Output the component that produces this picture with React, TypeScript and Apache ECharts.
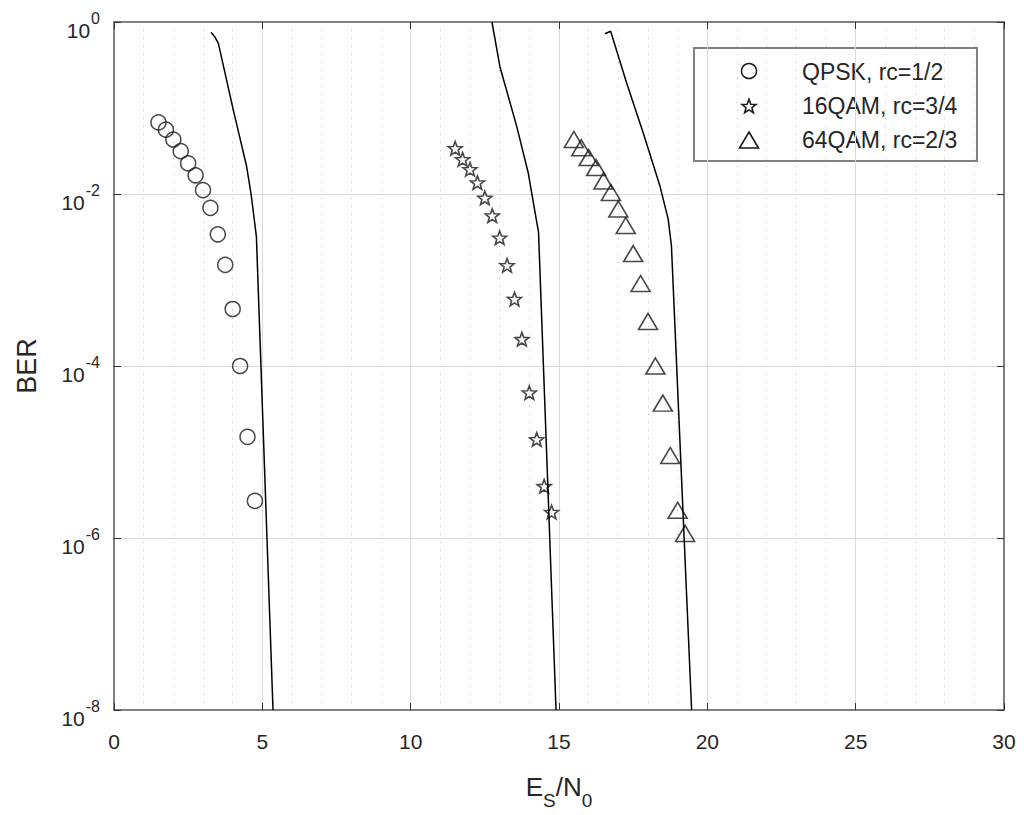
import React, { useEffect, useRef } from 'react';
import * as echarts from 'echarts';

// ---------- data ----------
const xMin = 0;
const xMax = 30;
const xStep = 5;
const yMinExp = -8;
const yMaxExp = 0;
const yStepExp = 2;

const qpskEs = [1.5, 1.75, 2.0, 2.25, 2.5, 2.75, 3.0, 3.25, 3.5, 3.75, 4.0, 4.25, 4.5, 4.75];
const qpskBer = [0.068, 0.056, 0.043, 0.0315, 0.0227, 0.0165, 0.0111, 0.0069, 0.0034, 0.0015, 4.6e-4, 1.0e-4, 1.5e-5, 2.7e-6];

const qam16Es = [11.5, 11.75, 12.0, 12.25, 12.5, 12.75, 13.0, 13.25, 13.5, 13.75, 14.0, 14.25, 14.5, 14.75];
const qam16Ber = [0.034, 0.0253, 0.0194, 0.0136, 0.009, 0.0056, 0.0031, 0.00148, 6.0e-4, 2.05e-4, 4.9e-5, 1.4e-5, 4.0e-6, 2.0e-6];

const qam64Es = [15.5, 15.75, 16.0, 16.25, 16.5, 16.75, 17.0, 17.25, 17.5, 17.75, 18.0, 18.25, 18.5, 18.75, 19.0, 19.25];
const qam64Ber = [0.043, 0.0345, 0.0265, 0.0203, 0.0142, 0.0104, 0.0067, 0.0043, 0.00203, 9.1e-4, 3.3e-4, 1.0e-4, 3.7e-5, 9.1e-6, 2.1e-6, 1.13e-6];

const qpskTheoryEs = [3.27, 3.4, 3.52, 4.02, 4.47, 4.62, 4.73, 4.8, 5.36];
const qpskTheoryBer = [0.76, 0.67, 0.56, 0.095, 0.021, 0.01, 0.005, 0.0032, 1e-8];

const qam16TheoryEs = [12.74, 13.01, 13.57, 13.96, 14.19, 14.31, 14.9];
const qam16TheoryBer = [1.0, 0.30, 0.062, 0.0178, 0.0062, 0.0036, 1e-8];

const qam64TheoryEs = [16.55, 16.74, 17.28, 17.84, 18.4, 18.68, 18.79, 19.47];
const qam64TheoryBer = [0.73, 0.78, 0.195, 0.0513, 0.0125, 0.0051, 0.0025, 1e-8];

const legendLabels = ['QPSK, rc=1/2', '16QAM, rc=3/4', '64QAM, rc=2/3'];
const xAxisTitle = ['E', 'S', '/N', '0'];
const yAxisTitle = 'BER';

// ---------- styling helpers ----------
const FONT = '"Liberation Sans", Arial, Helvetica, sans-serif';
const TEXT = '#262626';
const FRAME = '#808080';
const MARK = '#1a1a1a';

function starPoints(): number[][] {
  const pts: number[][] = [];
  for (let i = 0; i < 10; i++) {
    const a = -Math.PI / 2 + (i * Math.PI) / 5;
    const r = i % 2 === 0 ? 1 : 0.42;
    pts.push([r * Math.cos(a), r * Math.sin(a)]);
  }
  return pts;
}
const STAR = starPoints();
const starSymbol =
  'path://M' + STAR.map((p) => p[0].toFixed(4) + ' ' + p[1].toFixed(4)).join(' L') + ' Z';

function starPolygon(cx: number, cy: number, w: number, h: number): number[][] {
  const sx = w / 2 / 0.951;
  const sy = h / 1.809;
  const yc = (-1 + 0.809) / 2;
  return STAR.map((p) => [cx + p[0] * sx, cy + (p[1] - yc) * sy]);
}

const zip = (xs: number[], ys: number[]) => xs.map((x, i) => [x, ys[i]]);

export default function App() {
  const ref = useRef<HTMLDivElement>(null);

  useEffect(() => {
    const chart = echarts.init(ref.current!, null, { renderer: 'svg' });

    const gridLeft = 114;
    const gridTop = 22;
    const gridRight = 20;
    const gridBottom = 101;

    const commonX = {
      type: 'value',
      min: xMin,
      max: xMax,
      interval: xStep,
    };
    const commonY = {
      type: 'log',
      logBase: 10,
      min: Math.pow(10, yMinExp),
      max: Math.pow(10, yMaxExp),
      interval: yStepExp,
    };

    const legendX = 694;
    const legendY = 48;
    const legendW = 283;
    const legendH = 113;
    const symX = 749;
    const textX = 802;
    const rowY = [72, 106, 140];

    const option: any = {
      animation: false,
      backgroundColor: '#ffffff',
      textStyle: { fontFamily: FONT },
      grid: { left: gridLeft, right: gridRight, top: gridTop, bottom: gridBottom, containLabel: false },
      xAxis: [
        {
          ...commonX,
          position: 'bottom',
          name: `{m|${xAxisTitle[0]}}{s|${xAxisTitle[1]}}{m|${xAxisTitle[2]}}{s|${xAxisTitle[3]}}`,
          nameLocation: 'middle',
          nameGap: 64,
          nameTextStyle: {
            fontSize: 26,
            fontFamily: FONT,
            color: TEXT,
            rich: {
              m: { fontSize: 26, fontFamily: FONT, color: TEXT, lineHeight: 20, verticalAlign: 'top' },
              s: { fontSize: 19, fontFamily: FONT, color: TEXT, lineHeight: 53 },
            },
          },
          axisLine: { show: true, onZero: false, lineStyle: { color: FRAME, width: 2 } },
          axisTick: { show: true, inside: true, length: 7, lineStyle: { color: '#333', width: 1 } },
          axisLabel: { fontSize: 21, fontFamily: FONT, color: TEXT, margin: 21, lineHeight: 21 },
          splitLine: { show: true, lineStyle: { color: '#dadada', width: 1 } },
          minorTick: { show: false, splitNumber: 5 },
          minorSplitLine: { show: true, lineStyle: { color: '#b8b8b8', width: 1, type: [1, 7] } },
        },
        {
          ...commonX,
          position: 'top',
          axisLine: { show: true, onZero: false, lineStyle: { color: FRAME, width: 2 } },
          axisTick: { show: true, inside: true, length: 7, lineStyle: { color: '#333', width: 1 } },
          axisLabel: { show: false },
          splitLine: { show: false },
        },
      ],
      yAxis: [
        {
          ...commonY,
          position: 'left',
          name: yAxisTitle,
          nameLocation: 'middle',
          nameGap: 74,
          nameTextStyle: { fontSize: 27, fontFamily: FONT, color: TEXT, lineHeight: 27 },
          axisLine: { show: true, onZero: false, lineStyle: { color: FRAME, width: 2 } },
          axisTick: { show: true, inside: true, length: 7, lineStyle: { color: '#333', width: 1 } },
          axisLabel: {
            margin: 14,
            fontSize: 21,
            fontFamily: FONT,
            color: TEXT,
            formatter: (v: number) => {
              const e = Math.round(Math.log10(v));
              return `{base|10}{sup|${e}}`;
            },
            rich: {
              base: { fontSize: 21, fontFamily: FONT, color: TEXT, padding: [16, 0, 0, 0] },
              sup: { fontSize: 16, fontFamily: FONT, color: TEXT, verticalAlign: 'top', padding: [7, 0, 0, 1] },
            },
          },
          splitLine: { show: true, lineStyle: { color: '#dadada', width: 1 } },
          minorSplitLine: { show: false },
        },
        {
          ...commonY,
          position: 'right',
          axisLine: { show: true, onZero: false, lineStyle: { color: FRAME, width: 2 } },
          axisTick: { show: true, inside: true, length: 7, lineStyle: { color: '#333', width: 1 } },
          axisLabel: { show: false },
          splitLine: { show: false },
        },
      ],
      series: [
        {
          name: 'QPSK theory',
          type: 'line',
          data: zip(qpskTheoryEs, qpskTheoryBer),
          symbol: 'none',
          clip: true,
          lineStyle: { color: '#000', width: 1.5 },
          z: 3,
        },
        {
          name: '16QAM theory',
          type: 'line',
          data: zip(qam16TheoryEs, qam16TheoryBer),
          symbol: 'none',
          clip: true,
          lineStyle: { color: '#000', width: 1.5 },
          z: 3,
        },
        {
          name: '64QAM theory',
          type: 'line',
          data: zip(qam64TheoryEs, qam64TheoryBer),
          symbol: 'none',
          clip: true,
          lineStyle: { color: '#000', width: 1.5 },
          z: 3,
        },
        {
          name: legendLabels[0],
          type: 'scatter',
          data: zip(qpskEs, qpskBer),
          symbol: 'circle',
          symbolSize: 15,
          itemStyle: { color: 'rgba(0,0,0,0)', borderColor: MARK, borderWidth: 1.5 },
          z: 2,
        },
        {
          name: legendLabels[1],
          type: 'scatter',
          data: zip(qam16Es, qam16Ber),
          symbol: starSymbol,
          symbolSize: [14, 13.5],
          itemStyle: { color: 'rgba(0,0,0,0)', borderColor: MARK, borderWidth: 1.6 },
          z: 2,
        },
        {
          name: legendLabels[2],
          type: 'scatter',
          data: zip(qam64Es, qam64Ber),
          symbol: 'triangle',
          symbolSize: [19, 16],
          itemStyle: { color: 'rgba(0,0,0,0)', borderColor: MARK, borderWidth: 1.6 },
          z: 2,
        },
      ],
      graphic: [
        {
          type: 'group',
          z: 100,
          children: [
            {
              type: 'rect',
              shape: { x: legendX, y: legendY, width: legendW, height: legendH },
              style: { fill: '#ffffff', stroke: FRAME, lineWidth: 2 },
            },
            {
              type: 'circle',
              shape: { cx: symX, cy: rowY[0] - 1, r: 7.5 },
              style: { fill: 'none', stroke: MARK, lineWidth: 1.5 },
            },
            {
              type: 'polygon',
              shape: { points: starPolygon(symX, rowY[1], 14, 13.5) },
              style: { fill: 'none', stroke: MARK, lineWidth: 1.6 },
            },
            {
              type: 'polygon',
              shape: {
                points: [
                  [symX, rowY[2] - 8],
                  [symX + 9.5, rowY[2] + 8],
                  [symX - 9.5, rowY[2] + 8],
                ],
              },
              style: { fill: 'none', stroke: MARK, lineWidth: 1.6 },
            },
            ...legendLabels.map((t, i) => ({
              type: 'text',
              x: textX,
              y: rowY[i],
              style: {
                text: t,
                fontSize: 23,
                fontFamily: FONT,
                fill: TEXT,
                verticalAlign: 'middle',
                align: 'left',
              },
            })),
          ],
        },
      ],
    };

    chart.setOption(option);
    return () => chart.dispose();
  }, []);

  return (
    <div
      ref={ref}
      style={{ position: 'fixed', left: 0, top: 0, width: 1024, height: 815, background: '#fff' }}
    />
  );
}
